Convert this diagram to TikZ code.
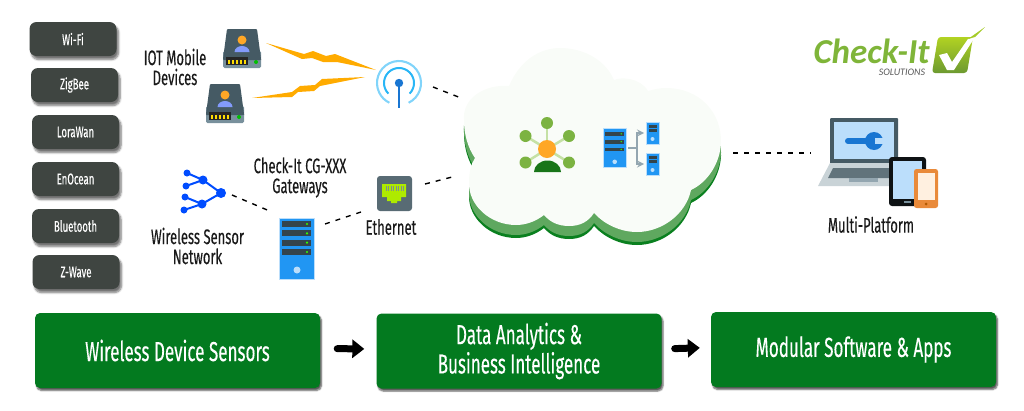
\documentclass[tikz,border=0pt]{standalone}
\usepackage{fontspec}
\setmainfont{Fira Sans}[FakeStretch=0.62,FakeBold=0.25]
\newfontfamily\logofont{Carlito}
\usetikzlibrary{shadows.blur,arrows.meta}
\definecolor{boxdark}{HTML}{3F4541}
\definecolor{boxgreen}{HTML}{037A1F}
\definecolor{clouddark}{HTML}{0A801F}
\definecolor{cloudmid}{HTML}{5FA85F}
\definecolor{cloudwhite}{HTML}{F9FCF8}
\definecolor{slate}{HTML}{455A64}
\definecolor{slatelight}{HTML}{78909C}
\definecolor{skyblue}{HTML}{BBDEFB}
\definecolor{rackblue}{HTML}{2196F3}
\definecolor{deepblue}{HTML}{1976D2}
\definecolor{boltorange}{HTML}{FFAB00}
\definecolor{headorange}{HTML}{FFA726}
\definecolor{leafgreen}{HTML}{7CB342}
\definecolor{leafpale}{HTML}{C5E1A5}
\definecolor{logogreen}{HTML}{7FB539}
\definecolor{phoneorange}{HTML}{E98A3A}
\definecolor{portgreen}{HTML}{AEEA00}
\definecolor{ringouter}{HTML}{81D4FA}
\definecolor{ringinner}{HTML}{29B6F6}
\tikzset{
	radiobox/.style={fill=boxdark,rounded corners=7pt,text=white,font=\fontsize{15.5}{17}\selectfont,minimum width=87pt,minimum height=34pt,inner sep=0pt,blur shadow={shadow xshift=2pt,shadow yshift=-3.5pt,shadow blur radius=2pt,shadow blur steps=6,shadow opacity=55}},
	stagebox/.style={fill=boxgreen,rounded corners=5pt,text=white,font=\fontsize{27.5}{25}\selectfont,align=center,minimum width=285pt,minimum height=75pt,inner sep=0pt,blur shadow={shadow xshift=1.5pt,shadow yshift=-2.5pt,shadow blur radius=1.5pt,shadow blur steps=6,shadow opacity=65}},
	caption/.style={text=black!90,font=\fontsize{21}{20}\selectfont,align=center,inner sep=0pt},
	link/.style={line width=1.4pt,dash pattern=on 5pt off 6pt},
	flow/.style={line width=7pt,-{Triangle[length=12pt,width=18pt]}},
	bolt/.style={fill=boltorange},
	pics/userdrive/.style={code={
		\fill[slatelight,rounded corners=1.5pt] (0,-22) rectangle (38,-39);
		\fill[slate,rounded corners=1pt] (4,0) -- (34,0) -- (38,-30) -- (38,-31) -- (0,-31) -- (0,-30) -- cycle;
		\fill[black!85] (3,-28) rectangle (25,-36);
		\foreach \i in {5,9,13,17,21} \fill[yellow!80!orange] (\i,-31) rectangle (\i+2,-35);
		\fill[green!75!black] (33,-33) circle (2pt);
		\fill[headorange] (19,-11) circle (4.5pt);
		\fill[blue!30!skyblue] (11.5,-23) arc (180:0:7.5pt and 6pt) -- cycle;
	}},
	pics/rack/.style={code={
		\fill[rackblue,draw=skyblue,line width=.4pt] (0,0) rectangle (35,-61);
		\foreach \i in {#1} {
			\fill[slate!75!black] (3,-\i) rectangle (32,-\i-6);
			\fill[green!80!yellow] (28,-\i-3) circle (1.2pt);
		}
		\fill[skyblue] (18,-52) circle (3.5pt);
	}},
	pics/smallrack/.style={code={
		\fill[rackblue,draw=skyblue,line width=.4pt] (0,0) rectangle (13,-22);
		\fill[slate!75!black] (2.5,-3) rectangle (10.5,-6);
		\fill[slate!75!black] (2.5,-7) rectangle (10.5,-10);
		\fill[skyblue] (6.5,-17) circle (2pt);
	}}
}
\begin{document}
\begin{tikzpicture}[>=stealth,x=1pt,y=1pt]
	\useasboundingbox (0,0) rectangle (1024,-410);
	% radio standards
	\node[radiobox] (wifi) at (73,-39) {Wi-Fi\hspace{6pt}};
	\node[radiobox] (zigbee) at (74.5,-85) {ZigBee};
	\node[radiobox] (lorawan) at (75.5,-132) {LoraWan};
	\node[radiobox] (enocean) at (75.5,-179) {EnOcean};
	\node[radiobox] (bluetooth) at (75.5,-226) {Bluetooth};
	\node[radiobox] (zwave) at (76,-272) {Z-Wave\hspace{10pt}};
	% stages
	\node[stagebox] (sensors) at (177.5,-350.5) {Wireless Device Sensors};
	\node[stagebox] (analytics) at (519,-351) {Data Analytics \&\\[1pt]Business Intelligence};
	\node[stagebox] (software) at (853.5,-349.5) {Modular Software \& Apps};
	\draw[flow,line cap=round,shorten <=17pt,shorten >=12pt] ([yshift=2pt]sensors.east) -- ([yshift=2pt]analytics.west);
	\draw[flow,line cap=round,shorten <=13pt,shorten >=11pt] ([yshift=2pt]analytics.east) -- ([yshift=2pt]software.west);
	% cloud
	\foreach \dy/\col in {-13/clouddark,-10/cloudmid,0/cloudwhite}
		\fill[\col,yshift=\dy pt] (464,-120) .. controls (462,-98) and (485,-84) .. (509,-86)
			.. controls (520,-60) and (540,-48) .. (560,-48)
			.. controls (585,-48) and (606,-61) .. (614,-80)
			.. controls (620,-77) and (640,-77) .. (648,-91)
			.. controls (655,-89) and (660,-88) .. (666,-88)
			.. controls (700,-88) and (722,-113) .. (721,-143)
			.. controls (720,-163) and (708,-182) .. (691,-190)
			.. controls (686,-214) and (662,-232) .. (637,-232)
			.. controls (620,-232) and (604,-224) .. (594,-213)
			.. controls (588,-222) and (580,-226) .. (569,-226)
			.. controls (558,-226) and (550,-222) .. (544,-215)
			.. controls (535,-222) and (525,-225) .. (516,-225)
			.. controls (490,-225) and (468,-205) .. (469,-182)
			.. controls (469,-172) and (471,-164) .. (475,-158)
			.. controls (468,-148) and (464,-135) .. (464,-120) -- cycle;
	% hub inside the cloud
	\foreach \a/\b in {547/-123,525.5/-136,569/-136,525.5/-162.5,569/-162.5} {
		\draw[leafpale,line width=2.5pt] (547,-149) -- (\a,\b);
		\fill[leafgreen] (\a,\b) circle (6pt);
	}
	\fill[headorange] (547,-149) circle (9pt);
	\fill[green!40!black!90] (534,-172) arc (180:0:13.5pt and 11.5pt) -- cycle;
	\pic[scale=.65] at (603,-128) {rack={6,18,30}};
	\pic at (646,-122) {smallrack};
	\pic at (646,-153) {smallrack};
	\draw[slatelight!80,line width=2pt] (628,-148) -- (637,-148);
	\draw[slatelight!80,line width=2pt,->] (637,-148) |- (644,-133);
	\draw[slatelight!80,line width=2pt,->] (637,-148) |- (644,-164);
	% mobile devices and antenna
	\pic at (223,-29) {userdrive};
	\pic at (206,-84) {userdrive};
	\fill[bolt] (266,-43) -- (304,-54) -- (313,-51) -- (326,-56) -- (335,-54) -- (376,-70) -- (337,-62) -- (323,-62) -- (312,-58) -- (302,-59) -- cycle;
	\fill[bolt] (252,-98) -- (292,-92) -- (300,-86) -- (315,-85) -- (322,-79) -- (365,-77) -- (320,-86) -- (314,-91) -- (298,-92) -- (292,-97) -- cycle;
	\coordinate (mast) at (399,-83);
	\draw[ringouter,line width=2.1pt] (mast) ++(-64:22pt) arc (-64:244:22pt);
	\draw[ringinner,line width=2pt] (mast) ++(-45:15pt) arc (-45:225:15pt);
	\draw[deepblue,line width=2pt] (mast) -- (399,-108);
	\fill[deepblue] (mast) circle (4.2pt);
	% sensor network
	\foreach \a/\b/\c/\d in {221/-193/203/-180,221/-193/202/-204,203/-180/187/-173,203/-180/186/-186,202/-204/185/-197,202/-204/184/-210}
		\draw[blue!70!cyan,line width=2pt] (\a,\b) -- (\c,\d);
	\fill[blue!70!cyan] (221,-193) circle (5pt) (203,-180) circle (4.5pt) (202,-204) circle (4.5pt);
	\fill[blue!70!cyan] (187,-173) circle (3.5pt) (186,-186) circle (3.5pt) (185,-197) circle (3.5pt) (184,-210) circle (3.5pt);
	% gateway and ethernet
	\pic at (279,-218) {rack={3,12.3,21.6,31}};
	\fill[slate!90,rounded corners=3pt] (377,-176) rectangle (412,-211);
	\fill[portgreen] (382,-184) -- (406,-184) -- (406,-197) -- (401,-197) -- (401,-201) -- (397,-201) -- (397,-203) -- (391,-203) -- (391,-201) -- (387,-201) -- (387,-197) -- (382,-197) -- cycle;
	\foreach \i in {0,...,7} \fill[slate!70] (385.5+2.5*\i,-185.5) rectangle (386.7+2.5*\i,-191);
	% laptop, tablet, phone
	\fill[slate,rounded corners=1pt] (830,-118) rectangle (898,-164);
	\fill[skyblue] (834,-122) rectangle (894,-159);
	\fill[slatelight!40] (830,-163) -- (898,-163) -- (905,-186) -- (818,-186) -- cycle;
	\fill[slate!85] (833,-168) -- (895,-168) -- (897,-178) -- (828,-178) -- cycle;
	\fill[slatelight!80] (849,-178) rectangle (878,-182);
	\draw[deepblue,line width=6pt,line cap=round] (848,-141) -- (868,-141);
	\fill[deepblue] (874,-141) circle (9pt);
	\fill[skyblue] (875,-138) rectangle (884,-144);
	\fill[black!80!slate,rounded corners=3pt] (889,-157) rectangle (926,-206);
	\fill[skyblue] (893,-161) rectangle (922,-199);
	\fill[slatelight] (904,-201) rectangle (911,-203);
	\fill[phoneorange,rounded corners=2.5pt] (914,-169) rectangle (938,-208);
	\fill[orange!12] (917.5,-173) rectangle (934.5,-200);
	\fill[orange!70!black] (926,-204) circle (1.5pt);
	% logo
	\node[inner sep=0pt,anchor=base,text=logogreen,font=\logofont\bfseries\itshape\fontsize{35}{35}\selectfont] (brand) at (871.5,-63.5) {Check-It};
	\node[inner sep=0pt,anchor=base,text=black!65,font=\logofont\itshape\fontsize{10}{10}\selectfont] (solutions) at (902,-75) {SOLUTIONS};
	\shade[top color=logogreen!60!yellow,bottom color=logogreen!85!black,rounded corners=3pt] (938,-37) -- (973,-37) -- (967,-73) -- (932,-73) -- cycle;
	\fill[white] (939,-55) -- (947,-53) -- (952,-62) -- (968,-39) -- (975,-37) -- (954,-70) -- (947,-70) -- cycle;
	\fill[logogreen!70!yellow] (985,-27) -- (968,-39) -- (975,-37) -- cycle;
	% labels
	\node[caption] (mobilelabel) at (175,-67) {IOT Mobile\\Devices};
	\node[caption] (gatewaylabel) at (300,-177.5) {Check-It CG-XXX\\Gateways};
	\node[caption] (wsnlabel) at (197.5,-246) {Wireless Sensor\\Network};
	\node[caption] (ethlabel) at (391,-227) {Ethernet};
	\node[caption] (platformlabel) at (871,-224.5) {Multi-Platform};
	% links
	\coordinate (antennaport) at (433,-87);
	\coordinate (cloudtop) at (461,-98);
	\coordinate (ethport) at (425,-184);
	\coordinate (cloudleft) at (456,-176);
	\coordinate (wsnport) at (232,-195);
	\coordinate (gatewayleft) at (272,-212);
	\coordinate (gatewayright) at (325,-224);
	\coordinate (ethleft) at (361,-212);
	\coordinate (cloudright) at (733,-153);
	\coordinate (platformleft) at (811,-153);
	\draw[link] (antennaport) -- (cloudtop);
	\draw[link] (ethport) -- (cloudleft);
	\draw[link] (wsnport) -- (gatewayleft);
	\draw[link] (gatewayright) -- (ethleft);
	\draw[link] (cloudright) -- (platformleft);
\end{tikzpicture}
\end{document}
